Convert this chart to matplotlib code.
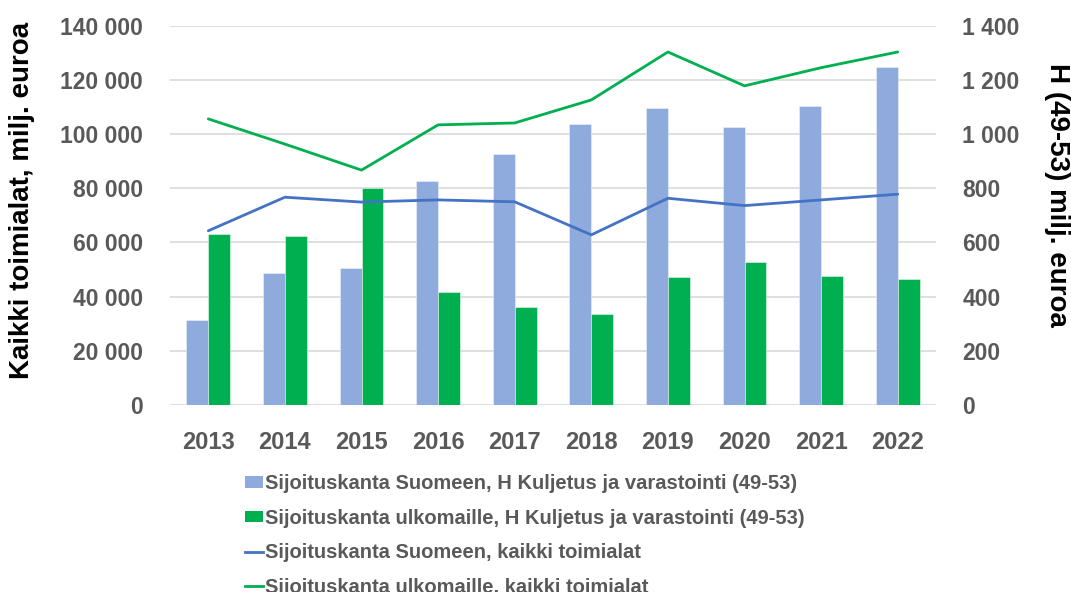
import matplotlib
matplotlib.use("Agg")
import matplotlib.pyplot as plt
from matplotlib.patches import Patch
from matplotlib.lines import Line2D
import numpy as np

years = ["2013", "2014", "2015", "2016", "2017", "2018", "2019", "2020", "2021", "2022"]
# H Kuljetus ja varastointi (49-53), right axis (milj. euroa)
h_suomeen = [315, 487, 506, 828, 926, 1036, 1098, 1025, 1104, 1249]
h_ulkomaille = [630, 625, 801, 417, 362, 335, 472, 528, 477, 464]
# Kaikki toimialat, left axis (milj. euroa)
kaikki_suomeen = [64300, 76700, 74900, 75700, 75000, 62800, 76300, 73600, 75700, 77800]
kaikki_ulkomaille = [105600, 96300, 86700, 103400, 104100, 112600, 130300, 117800, 124500, 130300]

labels = [
    "Sijoituskanta Suomeen, H Kuljetus ja varastointi (49-53)",
    "Sijoituskanta ulkomaille, H Kuljetus ja varastointi (49-53)",
    "Sijoituskanta Suomeen, kaikki toimialat",
    "Sijoituskanta ulkomaille, kaikki toimialat",
]
left_label = "Kaikki toimialat, milj. euroa"
right_label = "H (49-53) milj. euroa"

c_bar_blue = "#8faadc"
c_green = "#00b050"
c_line_blue = "#4472c4"
tick_col = "#595959"
font = "Liberation Sans"

plt.rcParams['font.family'] = [font, 'DejaVu Sans']

fig = plt.figure(figsize=(10.71, 5.92), dpi=100)
ax = fig.add_axes([170/1071, 1-405/592, (936-170)/1071, (405-25.7)/592])
axr = ax.twinx()

x = np.arange(len(years))
w = 0.285
axr.bar(x - w/2, h_suomeen, width=w, color=c_bar_blue, edgecolor="#eef2fa", linewidth=0.4, zorder=2)
axr.bar(x + w/2, h_ulkomaille, width=w, color=c_green, edgecolor="#e6f7ee", linewidth=0.4, zorder=2)
axr.set_ylim(0, 1400)
axr.set_yticks(np.arange(0, 1401, 200))
axr.set_yticklabels([f"{v:,}".replace(",", " ") for v in range(0, 1401, 200)])
axr.yaxis.grid(True, color="#d9d9d9", linewidth=1.2, zorder=0)
axr.set_axisbelow(True)

ax.plot(x, kaikki_suomeen, color=c_line_blue, linewidth=2.0, solid_capstyle="round")
ax.plot(x, kaikki_ulkomaille, color=c_green, linewidth=2.0, solid_capstyle="round")
ax.set_ylim(0, 140000)
ax.set_yticks(np.arange(0, 140001, 20000))
ax.set_yticklabels([f"{v:,}".replace(",", " ") for v in range(0, 140001, 20000)])
ax.set_xlim(-0.5, len(years) - 0.5)
ax.set_xticks(x)
ax.set_xticklabels(years)

ax.set_zorder(axr.get_zorder() + 1)
ax.patch.set_visible(False)

for a in (ax, axr):
    for s in a.spines.values():
        s.set_visible(False)
    a.tick_params(length=0, colors=tick_col, labelsize=16.5)
    for t in a.get_xticklabels() + a.get_yticklabels():
        t.set_fontweight("bold")
ax.tick_params(axis="y", pad=19.5)
axr.tick_params(axis="y", pad=19)
ax.tick_params(axis="x", pad=18.5, labelsize=17)

fig.text(22/1071, 1-200/592, left_label, rotation=90, ha="center", va="center",
         fontsize=20, fontweight="bold", color="black")
fig.text(1057/1071, 1-195/592, right_label, rotation=270, ha="center", va="center",
         fontsize=20, fontweight="bold", color="black")

handles = [
    Patch(facecolor=c_bar_blue, edgecolor="none"),
    Patch(facecolor=c_green, edgecolor="none"),
    Line2D([0], [0], color=c_line_blue, linewidth=2.0),
    Line2D([0], [0], color=c_green, linewidth=2.0),
]
leg = fig.legend(handles, labels, loc="upper left", bbox_to_anchor=(245/1071, 1-474/592),
                 frameon=False, fontsize=14.5, handlelength=0.9, handletextpad=0.1,
                 handleheight=0.5, labelspacing=0.77, borderaxespad=0, borderpad=0)
for t in leg.get_texts():
    t.set_color(tick_col)
    t.set_fontweight("bold")

fig.savefig("out.png", dpi=100)
